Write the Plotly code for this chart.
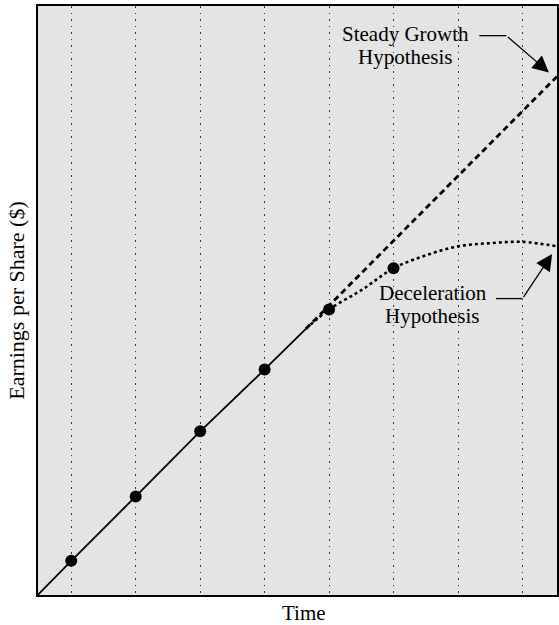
import plotly.graph_objects as go

# observed earnings (time periods 1..6)
periods = [1, 2, 3, 4, 5, 6]
eps = [0.53, 1.53, 2.54, 3.50, 4.43, 5.07]

# history line, drawn solid up to where the two forecasts split
hist_t = [0.48, 1, 2, 3, 4, 4.64]
hist_eps = [0.0, 0.53, 1.53, 2.54, 3.50, 4.13]

# steady growth hypothesis (dashed)
steady_t = [4.64, 8.54]
steady_eps = [4.13, 8.05]

# deceleration hypothesis (dotted)
decel_t = [4.64, 5, 5.5, 6, 6.5, 7, 7.5, 8, 8.54]
decel_eps = [4.13, 4.43, 4.73, 5.07, 5.27, 5.41, 5.46, 5.48, 5.41]

grid_t = [1, 2, 3, 4, 5, 6, 7, 8]

FONT = "Liberation Serif"

fig = go.Figure()

fig.add_trace(go.Scatter(x=hist_t, y=hist_eps, mode="lines",
                         line=dict(color="black", width=1.8)))
fig.add_trace(go.Scatter(x=steady_t, y=steady_eps, mode="lines",
                         line=dict(color="black", width=2.8, dash="6px,4px")))
fig.add_trace(go.Scatter(x=decel_t, y=decel_eps, mode="lines",
                         line=dict(color="black", width=2.6, dash="dot",
                                   shape="spline")))
fig.add_trace(go.Scatter(x=periods, y=eps, mode="markers",
                         marker=dict(color="black", size=12)))

# labels, one line each so the line spacing stays tight
labels = [
    ("Steady Growth", 6.18, 8.711),
    ("Hypothesis", 6.18, 8.345),
    ("Deceleration", 6.61, 4.693),
    ("Hypothesis", 6.61, 4.329),
]
for txt, x, y in labels:
    fig.add_annotation(x=x, y=y, text=txt, showarrow=False,
                       xanchor="center", yanchor="middle",
                       font=dict(family=FONT, size=21, color="black"))

# leader lines: horizontal stub + arrow to the curve end
fig.add_shape(type="line", x0=7.33, x1=7.75, y0=8.68, y1=8.68,
              line=dict(color="black", width=1.3))
fig.add_shape(type="line", x0=7.59, x1=8.00, y0=4.60, y1=4.60,
              line=dict(color="black", width=1.3))
for tail, tip in [((7.75, 8.68), (8.41, 8.11)), ((8.00, 4.60), (8.46, 5.29))]:
    fig.add_annotation(x=tip[0], y=tip[1], ax=tail[0], ay=tail[1],
                       xref="x", yref="y", axref="x", ayref="y",
                       text="", showarrow=True, arrowhead=2,
                       arrowsize=2.5, arrowwidth=1.3, arrowcolor="black")

# x axis title sits a bit right of centre in the original
fig.add_annotation(x=0.5, y=0, xref="paper", yref="paper", text="Time",
                   showarrow=False, xanchor="center", yanchor="top",
                   xshift=6, yshift=-4,
                   font=dict(family=FONT, size=21, color="black"))

fig.update_xaxes(range=[0.484, 8.536], tickvals=grid_t, showticklabels=False,
                 ticks="", showgrid=True, gridcolor="#333", gridwidth=1.3,
                 griddash="1.5px,5px", zeroline=False, showline=True,
                 mirror=True, linecolor="black", linewidth=1.5,
                 automargin=False)
fig.update_yaxes(range=[0, 9.14], showticklabels=False, ticks="",
                 showgrid=False, zeroline=False, showline=True, mirror=True,
                 linecolor="black", linewidth=1.5, automargin=False,
                 title=dict(text="Earnings per Share ($)", standoff=6,
                            font=dict(family=FONT, size=22, color="black")))

fig.update_layout(template="none", width=559, height=625,
                  margin=dict(l=38, r=2, t=6, b=30),
                  showlegend=False,
                  plot_bgcolor="#e4e4e4", paper_bgcolor="white",
                  font=dict(family=FONT, color="black"))

# drop the browser's default body margin so the figure fills the window
fig.write_html("out.html", config={"displayModeBar": False},
               post_script="document.body.style.margin = '0';")
